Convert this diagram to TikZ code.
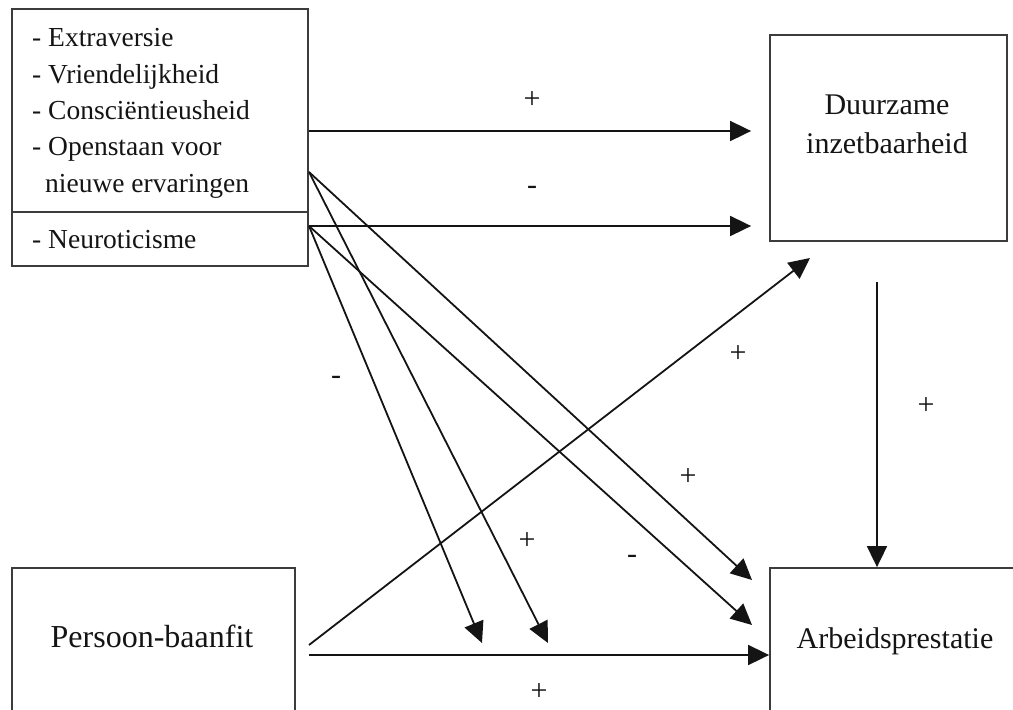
\documentclass[tikz,border=0pt]{standalone}
\usepackage{fontspec}
\setmainfont{Liberation Serif}
\usetikzlibrary{positioning,arrows.meta}
\definecolor{boxgray}{RGB}{60,60,60}
\definecolor{inkdark}{RGB}{20,20,20}

\begin{document}
\begin{tikzpicture}[x=1pt,y=-1pt,
    box/.style={draw=boxgray,line width=1.8pt,inner sep=0pt},
    lbl/.style={text=inkdark,inner sep=0pt},
    sign/.style={text=inkdark,font=\fontsize{30}{32}\selectfont,inner sep=0pt},
    arr/.style={draw=inkdark,line width=1.8pt,-{Triangle[length=21pt,width=20pt]}}]
        \useasboundingbox (0,0) rectangle (1013,710);
        \clip (0,0) rectangle (1013,710);

        \node[box,minimum width=296pt,minimum height=257pt]
          (traits) at (160,137.5) {};
        \draw[boxgray,line width=1.8pt]
          ([yshift=-74.5pt]traits.west) -- ([yshift=-74.5pt]traits.east);
        \node[lbl,anchor=base west,align=left,
              font=\fontsize{27.5}{36.3}\selectfont]
          (traitlist) at (32,192)
          {- Extraversie\\- Vriendelijkheid\\- Consciëntieusheid\\
           - Openstaan voor\\\hspace*{13pt}nieuwe ervaringen};
        \node[lbl,anchor=base west,font=\fontsize{27.5}{36.3}\selectfont]
          (neuro) at (32,248) {- Neuroticisme};

        \node[box,minimum width=237pt,minimum height=206pt]
          (duur) at (888.5,138) {};
        \node[lbl,anchor=base,align=center,font=\fontsize{30}{39}\selectfont]
          (duurtext) at (887,153) {Duurzame\\inzetbaarheid};

        \node[box,minimum width=283pt,minimum height=200pt]
          (pers) at (153.5,668) {};
        \node[lbl,anchor=base,font=\fontsize{32}{36}\selectfont]
          (perstext) at (152,647) {Persoon-baanfit};

        \node[box,minimum width=280pt,minimum height=200pt]
          (arb) at (910,668) {};
        \node[lbl,anchor=base,font=\fontsize{30}{36}\selectfont]
          (arbtext) at (895,648) {Arbeidsprestatie};

        \coordinate (tTop) at (309,131);
        \coordinate (tUp) at (309,172);
        \coordinate (tNeu) at (309,226);
        \coordinate (pUp) at (309,645);
        \coordinate (pMid) at (309,655);
        \coordinate (dOut) at (877,282);
        \coordinate (eA) at (482,643);
        \coordinate (eB) at (548,643);
        \coordinate (eC) at (752,580);
        \coordinate (eD) at (752,625);
        \coordinate (eDuur) at (810,258);

        \draw[arr,shorten >=18pt] (tTop) -- (tTop -| duur.west);
        \draw[arr,shorten >=18pt] (tNeu) -- (tNeu -| duur.west);
        \draw[arr] (tUp) -- (eC);
        \draw[arr] (tUp) -- (eB);
        \draw[arr] (tNeu) -- (eD);
        \draw[arr] (tNeu) -- (eA);
        \draw[arr] (pUp) -- (eDuur);
        \draw[arr] (pMid) -- (pMid -| arb.west);
        \draw[arr] (dOut) -- (dOut |- arb.north);

        \node[sign] (s1) at (532,100) {+};
        \node[sign] (s2) at (532,190) {-};
        \node[sign] (s3) at (336,380) {-};
        \node[sign] (s4) at (738,354) {+};
        \node[sign] (s5) at (688,477) {+};
        \node[sign] (s6) at (527,541) {+};
        \node[sign] (s7) at (632,559) {-};
        \node[sign] (s8) at (539,692) {+};
        \node[sign] (s9) at (926,406) {+};
      \end{tikzpicture}
\end{document}
